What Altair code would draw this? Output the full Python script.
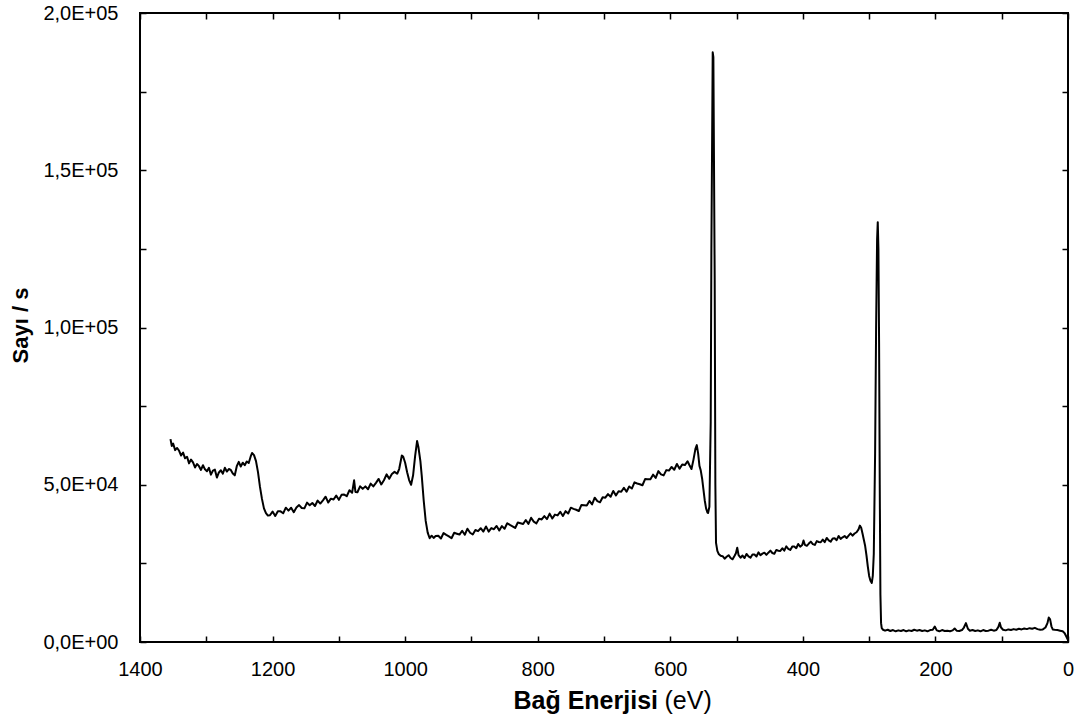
import altair as alt
import pandas as pd

# ---- data (binding energy in eV, counts per second) ----
E_a = [1354, 1352, 1350, 1347, 1344, 1341, 1338, 1335, 1332, 1329, 1326, 1323, 1320, 1317, 1314,
       1311, 1308, 1305, 1302, 1299, 1296, 1293, 1290, 1287, 1284, 1281, 1278, 1275, 1272, 1269,
       1266, 1263, 1260, 1257, 1254, 1251, 1248, 1245, 1242, 1239, 1236, 1233, 1231, 1228, 1225,
       1222, 1219, 1216, 1213, 1210, 1207]
I_a = [64500, 62300, 63100, 61000, 61700, 60800, 59300, 60200, 58400, 58900, 56800, 58000, 57100,
       55500, 56600, 55900, 54700, 56200, 54900, 54300, 55400, 53200, 54500, 54800, 52300, 53900,
       54600, 53500, 55400, 54200, 55000, 54700, 53600, 53000, 55900, 57300, 55800, 57000, 56200,
       57400, 56900, 59000, 60100, 59400, 57500, 54000, 49300, 45500, 42500, 41000, 40200]

E_b = [1204, 1200, 1196, 1192, 1188, 1184, 1180, 1176, 1172, 1168, 1164, 1160, 1156, 1152, 1148,
       1144, 1140, 1136, 1132, 1128, 1124, 1120, 1116, 1112, 1108, 1104, 1100, 1096, 1092, 1088,
       1084, 1080, 1077, 1075, 1072, 1068, 1064, 1060, 1056, 1052, 1048, 1044, 1040, 1036, 1032,
       1028, 1024, 1020, 1016, 1012, 1009, 1005, 1003, 1000, 997, 994, 991, 988, 985, 982, 980,
       977, 975, 972, 969, 966, 963, 960, 957, 954]
I_b = [40300, 41480, 40070, 41550, 41540, 40920, 42710, 41790, 42680, 41260, 42750, 43530, 42620,
       42510, 44320, 43460, 44200, 43240, 44980, 44020, 45060, 46200, 44340, 45580, 45320, 46560,
       45200, 46790, 46880, 46360, 48250, 47440, 51400, 47700, 47620, 49500, 48690, 49480, 48570,
       50360, 49470, 50610, 51850, 50090, 51430, 53300, 51900, 53400, 54100, 53500, 55000, 59300,
       59000, 57000, 54000, 51500, 50000, 53000, 59000, 63900, 62000, 57500, 53000, 45000, 38500,
       34800, 33000, 33800, 33100, 33700]

E_c = [950, 946, 942, 938, 934, 930, 926, 922, 918, 914, 910, 906, 902, 898, 894, 890, 886, 882,
       878, 874, 870, 866, 862, 858, 854, 850, 846, 842, 838, 834, 830, 826, 822, 818, 814, 810,
       806, 802, 798, 794, 790, 786, 782, 778, 774, 770, 766, 762, 758, 754, 750, 746, 742, 738,
       734, 730, 726, 722, 718, 714, 710, 706, 702, 698, 694, 690, 686, 682, 678, 674, 670, 666,
       662, 658, 654, 650, 646, 642, 638, 634, 630, 626, 622, 618, 614, 610, 606, 602, 598, 594,
       590, 586, 582, 578, 574]
I_c = [33800, 32920, 34640, 34060, 33580, 33000, 34720, 34440, 34160, 35380, 34100, 36020, 34740,
       34170, 35600, 35240, 36180, 35110, 36750, 35080, 36220, 35860, 36890, 35430, 36860, 36000,
       37760, 37220, 36780, 36240, 38000, 37760, 37520, 38780, 37540, 39500, 38260, 37720, 39220,
       38970, 40020, 39070, 40820, 39260, 40510, 40260, 41410, 40060, 41600, 40850, 42700, 42320,
       42040, 41660, 43580, 43500, 43420, 44840, 43760, 45880, 44800, 44420, 46040, 45880, 47030,
       46180, 48030, 46580, 47940, 47790, 49040, 47790, 49440, 48800, 50750, 50400, 50170, 49840,
       51800, 51770, 51740, 53210, 52180, 54340, 53310, 52980, 54650, 54520, 55660, 54780, 56600,
       55120, 56440, 56260, 57480]

E_d = [571, 568, 565, 562, 560, 558, 556, 554, 552, 550, 548, 546, 544, 543, 541, 539, 538, 536,
       535, 533, 532, 531, 529, 527, 524]
I_d = [56200, 55000, 58000, 61500, 62600, 60000, 56000, 54500, 52000, 48500, 45000, 42500, 41200,
       41000, 43000, 70000, 125000, 187500, 186000, 115000, 50000, 31500, 29000, 28000, 27400]

E_e = [521, 518, 515, 512, 509, 506, 503, 501, 499, 497, 494, 491, 488, 485, 482, 479, 476, 473,
       470, 467, 464, 461, 458, 455, 452, 449, 446, 443, 440, 437, 434, 431, 428, 425, 422, 419,
       416, 413, 410, 407, 404, 401, 399, 397, 394, 391, 388, 385, 382, 379, 376, 373, 370, 367,
       364, 361, 358, 355, 352, 349, 346, 343, 340, 337, 334, 331, 328, 325, 322, 319, 316, 314,
       312, 310]
I_e = [27300, 26500, 27100, 27600, 26700, 26300, 27400, 28200, 30000, 27600, 26800, 27500, 26700,
       28000, 27200, 26800, 27800, 27800, 27200, 28500, 27600, 28100, 28400, 27700, 28400, 29050,
       28300, 28040, 29280, 29020, 28960, 29810, 29050, 30400, 29640, 29280, 30330, 30370, 29820,
       31160, 30300, 30850, 32300, 30900, 30580, 31300, 31920, 31140, 30860, 32080, 31800, 31720,
       32540, 31760, 33080, 32300, 31920, 32940, 32960, 32380, 33700, 32800, 33300, 33680, 33060,
       33840, 34520, 33800, 34500, 34900, 35800, 37000, 36300, 34500]

E_f = [308, 306, 304, 302, 300, 298, 296, 294.5, 293, 291, 289.5, 288, 287, 286, 285, 284, 283,
       282, 281, 279]
I_f = [32500, 30500, 27500, 24000, 21000, 19500, 18800, 21000, 28000, 60000, 100000, 128000,
       133500, 125000, 95000, 50000, 15000, 6000, 4400, 3900]

E_g = [276, 272, 268, 264, 260, 256, 252, 248, 244, 240, 236, 232, 228, 224, 220, 216, 212, 208,
       204, 201, 198, 194, 190, 186, 182, 178, 174, 171, 168, 164, 160, 157, 154, 151, 148, 144,
       140, 136, 132, 128, 124, 120, 116, 112, 108, 105, 103, 101, 98, 94, 90, 86, 82, 78, 74, 70,
       66, 62, 58, 54, 50, 46, 42, 38, 34, 31, 29, 27, 25, 23, 20, 16, 12, 8, 5, 2, 0]
I_g = [3600, 3900, 3500, 3800, 3400, 3700, 3500, 3800, 3400, 3700, 3500, 3900, 3600, 3800, 3500,
       3700, 3400, 3800, 3900, 4900, 3700, 3400, 3800, 3500, 3600, 3400, 3700, 4300, 3600, 3500,
       3800, 4600, 6000, 4200, 3600, 3800, 3500, 3700, 3400, 3800, 3500, 3600, 3900, 3600, 3800,
       4800, 6100, 4600, 3900, 3700, 4000, 3800, 4100, 3900, 4200, 4000, 4300, 4100, 4400, 4200,
       4500, 4100, 3900, 4000, 4600, 6000, 7800, 7200, 5000, 4000, 3900, 3800, 3600, 3400, 2800,
       1500, 600]

x_ticks = [0, 100, 200, 300, 400, 500, 600, 700, 800, 900, 1000, 1100, 1200, 1300, 1400]
y_ticks = [0, 25000, 50000, 75000, 100000, 125000, 150000, 175000, 200000]

energy = E_a + E_b + E_c + E_d + E_e + E_f + E_g
counts = I_a + I_b + I_c + I_d + I_e + I_f + I_g
df = pd.DataFrame({"E": energy, "I": counts})

FONT = "Liberation Sans"
x_scale = alt.Scale(domain=[0, 1400], reverse=True, nice=False, zero=False)
y_scale = alt.Scale(domain=[0, 200000], nice=False)

base = alt.Chart(df)

line = base.mark_line(color="black", strokeWidth=2, strokeJoin="round").encode(
    x=alt.X("E:Q", scale=x_scale, axis=alt.Axis(
        orient="bottom", values=x_ticks, offset=-6, tickSize=6, tickWidth=1.5,
        tickColor="black", domain=False, grid=False, format="d",
        labelExpr="datum.value % 200 == 0 ? datum.label : ''",
        labelFont=FONT, labelFontSize=20, labelColor="black", labelPadding=17,
        labelFlush=False, labelOverlap=False,
        title="Bağ Enerjisi", titleFont=FONT, titleFontSize=25, titleFontWeight="bold",
        titleColor="black", titleAlign="left", titleBaseline="alphabetic",
        titleX=373, titleY=72)),
    y=alt.Y("I:Q", scale=y_scale, axis=alt.Axis(
        orient="left", values=y_ticks, offset=-6, tickSize=6, tickWidth=1.5,
        tickColor="black", domain=False, grid=False,
        labelExpr="datum.value % 50000 == 0 ? replace(replace(format(datum.value, '.1e'), '.', ','), 'e+', 'E+0') : ''",
        labelFont=FONT, labelFontSize=20, labelColor="black", labelPadding=22,
        labelFlush=False, labelOverlap=False,
        title="Sayı / s", titleFont=FONT, titleFontSize=22, titleFontWeight="bold",
        titleColor="black", titleAlign="center", titleBaseline="alphabetic",
        titleAngle=270, titleX=-119, titleY=312)),
)

ticks_tr = base.mark_line(strokeOpacity=0).encode(
    x=alt.X("E:Q", scale=x_scale, title=None, axis=alt.Axis(
        orient="top", values=x_ticks, offset=-6, tickSize=6, tickWidth=1.5,
        tickColor="black", domain=False, grid=False, labels=False)),
    y=alt.Y("I:Q", scale=y_scale, title=None, axis=alt.Axis(
        orient="right", values=y_ticks, offset=-6, tickSize=6, tickWidth=1.5,
        tickColor="black", domain=False, grid=False, labels=False)),
)

ev = base.mark_line(strokeOpacity=0).encode(
    x=alt.X("E:Q", scale=x_scale, axis=alt.Axis(
        orient="bottom", offset=-6, ticks=False, labels=False, domain=False, grid=False,
        title="(eV)", titleFont=FONT, titleFontSize=25, titleFontWeight="normal",
        titleColor="black", titleAlign="left", titleBaseline="alphabetic",
        titleX=524, titleY=72)),
    y=alt.Y("I:Q", scale=y_scale, axis=None),
)

chart = alt.layer(line, ticks_tr, ev).resolve_axis(
    x="independent", y="independent"
).properties(
    width=928, height=629,
    autosize=alt.AutoSizeParams(type="none"),
    padding={"left": 140, "top": 13, "right": 18, "bottom": 80},
    background="white",
).configure_view(stroke="black", strokeWidth=2)

chart.save("out.html", embed_options={"renderer": "svg", "actions": False})
